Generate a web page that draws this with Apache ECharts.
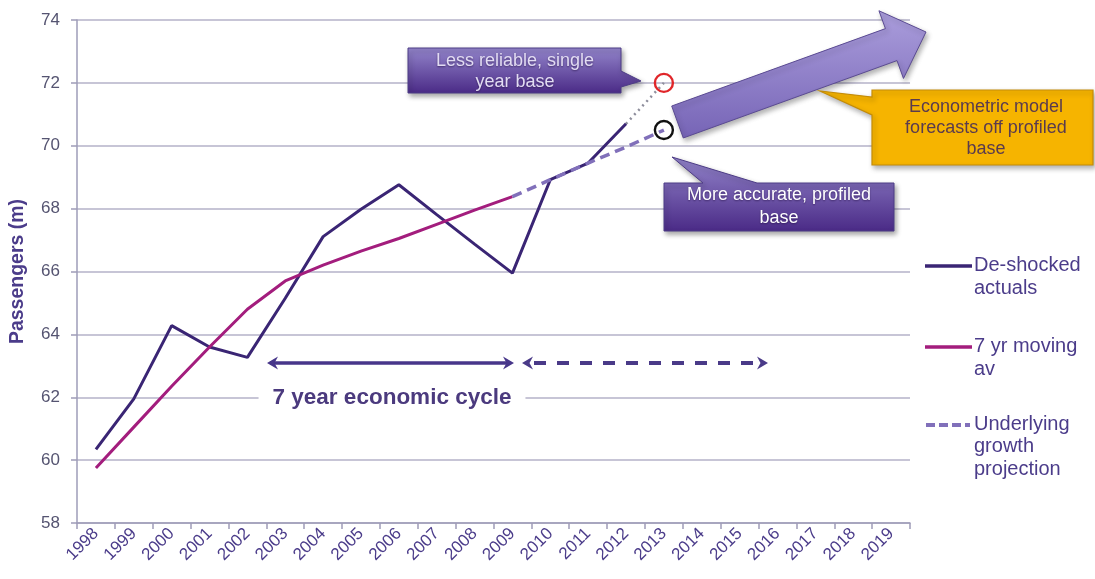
<!DOCTYPE html>
<html>
<head>
<meta charset="utf-8">
<title>Passengers (m)</title>
<script src="https://cdn.jsdelivr.net/npm/echarts@6/dist/echarts.min.js"></script>
<style>
  html, body { margin: 0; padding: 0; background: #ffffff; }
  #chart { width: 1095px; height: 579px; }
</style>
</head>
<body>
<div id="chart"></div>
<script>
// Category axis: years
const years = ['1998', '1999', '2000', '2001', '2002', '2003', '2004', '2005', '2006', '2007', '2008',
               '2009', '2010', '2011', '2012', '2013', '2014', '2015', '2016', '2017', '2018', '2019'];

// Passengers (m)
const deShockedActuals = [60.34, 61.95, 64.28, 63.6, 63.27, 65.15, 67.11, 67.98, 68.76, 67.81, 66.87,
                          65.95, 68.92, 69.45, 70.7];
const movingAverage7yr = [59.75, 61.05, 62.35, 63.6, 64.8, 65.7, 66.2, 66.65, 67.05, 67.5, 67.95, 68.38];
const growthProjection = [null, null, null, null, null, null, null, null, null, null, null,
                          68.38, 68.92, 69.45, 69.96, 70.5];
const singleYearBase   = [null, null, null, null, null, null, null, null, null, null, null,
                          null, null, null, 70.7, 72.0];

// Y axis ticks
const yMin = 58, yMax = 74, yStep = 2;

const FONT = '"Liberation Sans", Arial, Helvetica, sans-serif';
const C_ACTUAL = '#3a2574';
const C_AVG = '#a31d7d';
const C_PROJ = '#8170ba';
const C_TEXT = '#4b3c8a';

// last point of a series gets a hollow ring
function ringLast(arr, color) {
  return arr.map((v, i) => {
    if (v == null) return null;
    const isLast = arr.slice(i + 1).every(x => x == null);
    if (!isLast) return v;
    return {
      value: v, symbol: 'circle', symbolSize: 18,
      itemStyle: { color: 'rgba(255,255,255,0)', borderColor: color, borderWidth: 2.4 }
    };
  });
}

// arrow polygon from base centre to tip
function blockArrow(x0, y0, x1, y1, shaftHalf, headHalf, headLen) {
  const dx = x1 - x0, dy = y1 - y0, L = Math.hypot(dx, dy);
  const ux = dx / L, uy = dy / L, nx = -uy, ny = ux;
  const bx = x0 + ux * (L - headLen), by = y0 + uy * (L - headLen);
  return [
    [x0 + nx * shaftHalf, y0 + ny * shaftHalf],
    [bx + nx * shaftHalf, by + ny * shaftHalf],
    [bx + nx * headHalf, by + ny * headHalf],
    [x1, y1],
    [bx - nx * headHalf, by - ny * headHalf],
    [bx - nx * shaftHalf, by - ny * shaftHalf],
    [x0 - nx * shaftHalf, y0 - ny * shaftHalf]
  ];
}

function chevron(x, y, dir, color) {
  // dir = -1 points left, +1 points right
  return {
    type: 'polygon', z: 20,
    shape: { points: [[x, y], [x - dir * 11, y - 6.5], [x - dir * 7.5, y], [x - dir * 11, y + 6.5]] },
    style: { fill: color }
  };
}

const purpleFill = {
  type: 'linear', x: 0, y: 0, x2: 0, y2: 1,
  colorStops: [{ offset: 0, color: '#9385cb' }, { offset: 1, color: '#4a2a86' }]
};
const calloutStyle = {
  fill: purpleFill, stroke: '#4d3c86', lineWidth: 1,
  shadowBlur: 5, shadowOffsetX: 2, shadowOffsetY: 3, shadowColor: 'rgba(0,0,0,0.35)'
};
function calloutText(x, y, text, fill, lh, shadow) {
  return {
    type: 'text', z: 31, x: x, y: y,
    style: {
      text: text, font: '18px ' + FONT, fill: fill, lineHeight: lh,
      align: 'center', verticalAlign: 'middle', textAlign: 'center', textVerticalAlign: 'middle',
      textShadowBlur: shadow ? 2 : 0, textShadowColor: 'rgba(30,10,60,0.6)', textShadowOffsetY: shadow ? 1 : 0
    }
  };
}
function legendText(x, y, text, lh) {
  return {
    type: 'text', z: 30, x: x, y: y,
    style: {
      text: text, font: '20px ' + FONT, fill: C_TEXT, lineHeight: lh,
      align: 'left', verticalAlign: 'top', textAlign: 'left', textVerticalAlign: 'top'
    }
  };
}

const chart = echarts.init(document.getElementById('chart'), null, { renderer: 'canvas' });

const option = {
  backgroundColor: '#ffffff',
  animation: false,
  grid: { left: 72, right: 185, top: 20, bottom: 56, containLabel: false },
  xAxis: {
    type: 'category',
    data: years,
    boundaryGap: true,
    axisLine: { lineStyle: { color: '#9e9cb8', width: 1.5 } },
    axisTick: { show: true, interval: 0, length: 6, lineStyle: { color: '#9e9cb8', width: 1.5 } },
    axisLabel: { interval: 0, rotate: 45, margin: 8, color: C_TEXT, fontSize: 17, fontFamily: FONT },
    splitLine: { show: false }
  },
  yAxis: {
    type: 'value',
    min: yMin, max: yMax, interval: yStep,
    name: 'Passengers (m)',
    nameLocation: 'middle',
    nameGap: 49,
    nameTextStyle: { color: C_TEXT, fontSize: 19.5, fontWeight: 'bold', fontFamily: FONT },
    axisLine: { show: true, lineStyle: { color: '#9e9cb8', width: 1.5 } },
    axisTick: { show: true, length: 6, lineStyle: { color: '#9e9cb8', width: 1.5 } },
    axisLabel: { color: '#555471', fontSize: 17, fontFamily: FONT, margin: 17 },
    splitLine: { lineStyle: { color: '#b4b2c8', width: 1.5 } }
  },
  series: [
    {
      name: 'Single year base', type: 'line', data: ringLast(singleYearBase, '#e0262a'),
      symbol: 'none', connectNulls: false, z: 3,
      lineStyle: { color: '#8e8e9c', width: 2.5, type: [2, 4] }
    },
    {
      name: 'De-shocked actuals', type: 'line', data: deShockedActuals,
      symbol: 'none', z: 4,
      lineStyle: { color: C_ACTUAL, width: 3 }
    },
    {
      name: '7 yr moving av', type: 'line', data: movingAverage7yr,
      symbol: 'none', z: 4,
      lineStyle: { color: C_AVG, width: 3 }
    },
    {
      name: 'Underlying growth projection', type: 'line', data: ringLast(growthProjection, '#111111'),
      symbol: 'none', z: 5,
      lineStyle: { color: C_PROJ, width: 3.5, type: [10, 6] }
    }
  ],
  graphic: [
    // 7 year cycle arrows
    { type: 'line', z: 20, shape: { x1: 270, y1: 363, x2: 510, y2: 363 },
      style: { stroke: '#47368a', lineWidth: 3.5 } },
    chevron(267, 363, -1, '#47368a'),
    chevron(514, 363, 1, '#47368a'),
    { type: 'line', z: 20, shape: { x1: 534, y1: 363, x2: 758, y2: 363 },
      style: { stroke: '#4a3a88', lineWidth: 4, lineDash: [12, 11] } },
    chevron(522, 363, -1, '#4a3a88'),
    chevron(768, 363, 1, '#4a3a88'),
    {
      type: 'text', z: 21, x: 392, y: 398,
      style: {
        text: '7 year economic cycle', font: 'bold 22.5px ' + FONT, fill: '#4b3a7e',
        align: 'center', verticalAlign: 'middle', textAlign: 'center', textVerticalAlign: 'middle',
        backgroundColor: '#ffffff', padding: [2, 14, 2, 14]
      }
    },

    // big forecast arrow
    {
      type: 'polygon', z: 25,
      shape: { points: blockArrow(677.5, 122, 926, 32, 17, 36, 37) },
      style: {
        fill: { type: 'linear', x: 0, y: 0, x2: 0, y2: 1,
                colorStops: [{ offset: 0, color: '#ab9edc' }, { offset: 1, color: '#7664b6' }] },
        stroke: '#5a4a92', lineWidth: 1,
        shadowBlur: 5, shadowOffsetX: 2, shadowOffsetY: 3, shadowColor: 'rgba(0,0,0,0.3)'
      }
    },

    // callout: single year base
    {
      type: 'polygon', z: 30,
      shape: { points: [[408, 48], [621, 48], [621, 71], [641, 81], [621, 87], [621, 93], [408, 93]] },
      style: calloutStyle
    },
    calloutText(515, 71.5, 'Less reliable, single\nyear base', '#e2dcf3', 21, true),

    // callout: profiled base
    {
      type: 'polygon', z: 30,
      shape: { points: [[664, 183], [703, 183], [672, 157], [757, 183], [894, 183], [894, 231], [664, 231]] },
      style: calloutStyle
    },
    calloutText(779, 206.5, 'More accurate, profiled\nbase', '#ffffff', 23, true),

    // callout: econometric model
    {
      type: 'polygon', z: 30,
      shape: { points: [[872, 90], [1093, 90], [1093, 165], [872, 165], [872, 115], [820, 91], [872, 97]] },
      style: {
        fill: '#f6b400', stroke: '#c48c08', lineWidth: 1.2,
        shadowBlur: 5, shadowOffsetX: 2, shadowOffsetY: 3, shadowColor: 'rgba(0,0,0,0.3)'
      }
    },
    calloutText(986, 128, 'Econometric model\nforecasts off profiled\nbase', '#5a3b4e', 21, false),

    // legend
    { type: 'line', z: 30, shape: { x1: 925, y1: 266, x2: 972, y2: 266 },
      style: { stroke: C_ACTUAL, lineWidth: 3.5 } },
    legendText(974, 254, 'De-shocked\nactuals', 23),
    { type: 'line', z: 30, shape: { x1: 925, y1: 347, x2: 972, y2: 347 },
      style: { stroke: C_AVG, lineWidth: 3.5 } },
    legendText(974, 335, '7 yr moving\nav', 23),
    { type: 'line', z: 30, shape: { x1: 926, y1: 425, x2: 970, y2: 425 },
      style: { stroke: C_PROJ, lineWidth: 4, lineDash: [9, 4] } },
    legendText(974, 413, 'Underlying\ngrowth\nprojection', 22.5)
  ]
};

chart.setOption(option);
</script>
</body>
</html>
